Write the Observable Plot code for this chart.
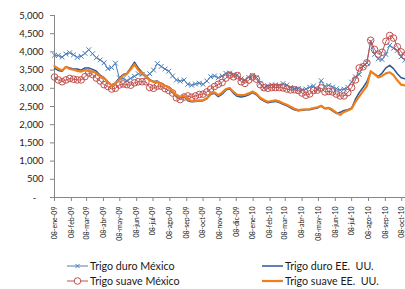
<!DOCTYPE html>
<html>
<head>
<meta charset="utf-8">
<script src="https://cdn.jsdelivr.net/npm/d3@7"></script>
<script src="https://cdn.jsdelivr.net/npm/@observablehq/plot@0.6"></script>
<style>
  html, body { margin: 0; padding: 0; background: #fff; }
  body { width: 405px; height: 289px; position: relative; overflow: hidden; font-family: Lato, "Liberation Sans", sans-serif; }
  #chart svg text { fill: #1a1a1a; }
  .leg { position: absolute; height: 14px; line-height: 14px; display: flex; align-items: center; font-size: 10.7px; color: #1a1a1a; white-space: nowrap; }
  .leg svg { margin-right: 2px; }
</style>
</head>
<body>
<div id="chart"></div>
<div class="leg" style="left:67px; top:259px;"><svg width="21" height="10"><line x1="0" y1="5" x2="21" y2="5" stroke="#4a7ebb" stroke-width="1"/><path d="M8.5,3 L12.5,7 M12.5,3 L8.5,7" stroke="#4a7ebb" stroke-width="1"/></svg>Trigo duro México</div>
<div class="leg" style="left:262px; top:259px;"><svg width="21" height="10"><line x1="0" y1="5" x2="21" y2="5" stroke="#2c5597" stroke-width="1.5"/></svg>Trigo duro EE.&nbsp; UU.</div>
<div class="leg" style="left:67px; top:274px;"><svg width="21" height="10"><line x1="0" y1="5" x2="21" y2="5" stroke="#c0504d" stroke-width="1"/><circle cx="10.5" cy="5" r="3.3" fill="#fff" stroke="#c0504d" stroke-width="1"/></svg>Trigo suave México</div>
<div class="leg" style="left:262px; top:274px;"><svg width="21" height="10"><line x1="0" y1="5" x2="21" y2="5" stroke="#f07f1a" stroke-width="2.2"/></svg>Trigo suave EE.&nbsp; UU.</div>
<script>
// ---- data (weekly prices, pesos per tonne) ----
const startDate = "2009-01-08";   // first weekly observation
const weekCount = 93;             // weekly observations through mid-Oct 2010

const duroMexico = [3910,3900,3860,3940,3980,3920,3850,3880,3960,4060,
  3950,3840,3780,3700,3540,3570,3690,3290,3270,3210,
  3270,3330,3400,3380,3320,3400,3500,3680,3600,3530,
  3470,3340,3230,3195,3230,3110,3085,3120,3140,3110,
  3200,3320,3340,3290,3340,3410,3420,3360,3370,3260,
  3220,3300,3355,3300,3140,3010,3070,3090,3095,3080,
  3130,3090,3025,3000,2995,2960,2980,3030,3065,2960,
  3210,3050,3080,3035,2990,2950,2975,3030,3170,3315,
  3380,3610,3700,4280,3930,3810,3790,3930,4180,4100,
  4040,3865,3770];

const duroEEUU = [3550,3490,3470,3590,3560,3530,3530,3500,3560,3560,
  3520,3470,3360,3290,3180,3090,3150,3280,3380,3410,
  3560,3720,3560,3440,3330,3240,3190,3200,3130,3080,
  3040,2910,2780,2740,2770,2660,2630,2640,2650,2660,
  2710,2830,2860,2770,2840,2950,2990,2860,2780,2760,
  2780,2820,2880,2820,2710,2650,2600,2620,2640,2610,
  2560,2520,2460,2410,2380,2400,2410,2410,2440,2460,
  2510,2440,2450,2380,2310,2340,2390,2410,2460,2700,
  2880,3020,3180,3450,3390,3320,3420,3560,3630,3540,
  3400,3290,3260];

const suaveMexico = [3310,3230,3180,3230,3270,3250,3230,3230,3320,3420,
  3380,3280,3200,3100,3050,2980,3000,3090,3120,3100,
  3085,3150,3180,3180,3180,3020,3000,3060,3060,2990,
  2940,2870,2740,2690,2760,2790,2750,2790,2830,2840,
  2900,2980,3050,3110,3160,3280,3360,3315,3350,3180,
  3135,3225,3310,3250,3100,3015,3000,3020,3020,3020,
  3010,2980,2955,2960,2940,2870,2810,2845,2940,2950,
  3010,2900,2915,2900,2840,2790,2790,2880,3020,3230,
  3560,3590,3700,4320,4070,3940,3990,4290,4450,4380,
  4140,4000,3900];

const suaveEEUU = [3610,3540,3490,3590,3530,3510,3480,3460,3500,3480,
  3460,3420,3330,3280,3170,3070,3130,3240,3350,3390,
  3520,3660,3500,3420,3340,3220,3170,3180,3120,3070,
  3030,2920,2810,2760,2800,2690,2650,2655,2670,2670,
  2730,2850,2890,2810,2880,2980,3010,2900,2820,2810,
  2820,2860,2910,2850,2740,2680,2630,2650,2670,2640,
  2590,2550,2490,2440,2400,2415,2425,2430,2460,2480,
  2520,2450,2465,2410,2330,2270,2350,2390,2440,2630,
  2780,2920,3060,3470,3390,3300,3340,3410,3440,3360,
  3220,3100,3080];

const tickDates = ["2009-01-08","2009-02-08","2009-03-08","2009-04-08","2009-05-08","2009-06-08",
  "2009-07-08","2009-08-08","2009-09-08","2009-10-08","2009-11-08","2009-12-08",
  "2010-01-08","2010-02-08","2010-03-08","2010-04-08","2010-05-08","2010-06-08",
  "2010-07-08","2010-08-08","2010-09-08","2010-10-08"];
const tickLabels = ["08-ene-09","08-feb-09","08-mar-09","08-abr-09","08-may-09","08-jun-09",
  "08-jul-09","08-ago-09","08-sep-09","08-oct-09","08-nov-09","08-dic-09",
  "08-ene-10","08-feb-10","08-mar-10","08-abr-10","08-may-10","08-jun-10",
  "08-jul-10","08-ago-10","08-sep-10","08-oct-10"];
const yTicks = [0,500,1000,1500,2000,2500,3000,3500,4000,4500,5000];

// ---- build tables ----
const t0 = new Date(startDate + "T00:00:00Z");
const dates = d3.range(weekCount).map(i => d3.utcDay.offset(t0, 7 * i));
const rows = (vals) => vals.map((v, i) => ({date: dates[i], value: v}));
const dM = rows(duroMexico), dU = rows(duroEEUU), sM = rows(suaveMexico), sU = rows(suaveEEUU);
const tickDateObjs = tickDates.map(s => new Date(s + "T00:00:00Z"));
const labelOf = new Map(tickDateObjs.map((d, i) => [+d, tickLabels[i]]));

const chart = Plot.plot({
  width: 405,
  height: 250,
  marginLeft: 54,
  marginRight: 0,
  marginTop: 15,
  marginBottom: 53,
  style: {fontFamily: "Lato, 'Liberation Sans', sans-serif", fontSize: "9.5px", color: "#868686", background: "#fff", overflow: "visible"},
  x: {
    type: "utc",
    domain: [t0, new Date("2010-10-15T00:00:00Z")],
    ticks: tickDateObjs,
    tickFormat: d => labelOf.get(+d) ?? "",
    tickRotate: -90,
    tickSize: 4,
    tickPadding: 5,
    line: true,
    label: null
  },
  y: {
    domain: [0, 5000],
    ticks: yTicks,
    tickFormat: v => v === 0 ? "-\u00a0\u00a0\u00a0" : d3.format(",")(v),
    tickSize: 4,
    tickPadding: 7,
    line: true,
    label: null
  },
  marks: [
    Plot.line(dM, {x: "date", y: "value", stroke: "#4a7ebb", strokeWidth: 1}),
    Plot.dot(dM, {x: "date", y: "value", symbol: "times", r: 2.3, stroke: "#4a7ebb", strokeWidth: 1}),
    Plot.line(dU, {x: "date", y: "value", stroke: "#2c5597", strokeWidth: 1.5}),
    Plot.line(sM, {x: "date", y: "value", stroke: "#c0504d", strokeWidth: 1}),
    Plot.dot(sM, {x: "date", y: "value", r: 3.3, stroke: "#c0504d", fill: "none", strokeWidth: 1}),
    Plot.line(sU, {x: "date", y: "value", stroke: "#f07f1a", strokeWidth: 2.2})
  ]
});
document.getElementById("chart").appendChild(chart);
// smaller rotated date labels
d3.select(chart).selectAll("[aria-label='x-axis tick label'] text, [aria-label='x-axis'] text").style("font-size", "7px");
</script>
</body>
</html>
